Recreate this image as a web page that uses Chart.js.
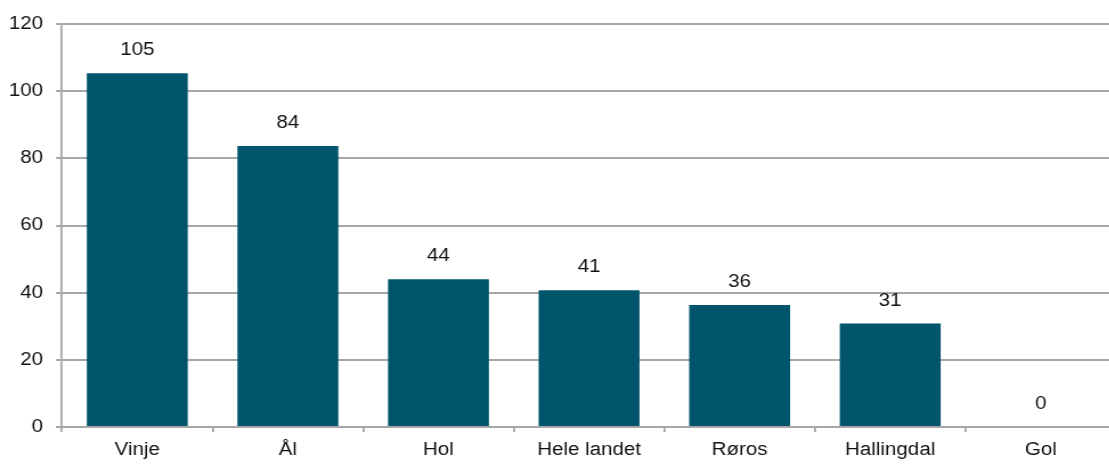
<!DOCTYPE html>
<html>
<head>
<meta charset="utf-8">
<script src="https://cdn.jsdelivr.net/npm/chart.js@4/dist/chart.umd.min.js"></script>
<style>
  html, body { margin: 0; padding: 0; overflow: hidden; background: #fff; }
  #wrap { width: 1109px; height: 464px; overflow: hidden; }
  /* the reference is stretched sideways, so the canvas is too */
  #bar { transform: scaleX(1.14); transform-origin: 0 0; }
</style>
</head>
<body>
<div id="wrap"><canvas id="bar" width="979" height="464"></canvas></div>
<script>
var categories = ["Vinje", "Ål", "Hol", "Hele landet", "Røros", "Hallingdal", "Gol"];
var values = [105.3, 83.7, 44.0, 40.7, 36.3, 30.8, 0];
var yTicks = [0, 20, 40, 60, 80, 100, 120];

var stretch = 1.14;
var barColor = "#00546b";
var gridColor = "#a6a6a6";
var textColor = "#111111";
var fontFamily = "'Liberation Sans', Arial, sans-serif";

// labels over the bars
var valueLabels = {
    id: "valueLabels",
    afterDatasetsDraw: function (chart) {
        var ctx = chart.ctx;
        var meta = chart.getDatasetMeta(0);
        ctx.save();
        ctx.font = "18px " + fontFamily;
        ctx.fillStyle = textColor;
        ctx.textAlign = "center";
        ctx.textBaseline = "middle";
        meta.data.forEach(function (el, i) {
            ctx.fillText(String(Math.round(values[i])), el.x, el.y - 23);
        });
        ctx.restore();
    }
};

var bCtx = document.getElementById("bar").getContext("2d");
var bar = new Chart(bCtx, {
    type: "bar",
    data: {
        labels: categories,
        datasets: [
            {
                label: "Verdi",
                data: values,
                backgroundColor: barColor,
                borderWidth: 0,
                barPercentage: 0.67,
                categoryPercentage: 1.0,
            },
        ],
    },
    plugins: [valueLabels],
    options: {
        responsive: false,
        devicePixelRatio: 1,
        animation: false,
        layout: {
            padding: { top: 24, right: 0, bottom: 0, left: 0 },
        },
        plugins: {
            legend: { display: false },
            tooltip: { enabled: false },
        },
        scales: {
            y: {
                min: 0,
                max: 120,
                afterFit: function (scale) { scale.width = 62 / stretch; },
                afterBuildTicks: function (scale) {
                    scale.ticks = yTicks.map(function (v) { return { value: v }; });
                },
                ticks: {
                    color: textColor,
                    padding: 11.4,
                    font: { family: fontFamily, size: 18 },
                },
                grid: {
                    color: gridColor,
                    lineWidth: 2,
                    tickLength: 6 / stretch,
                },
                border: { display: true, color: gridColor, width: 1.8 },
            },
            x: {
                afterFit: function (scale) { scale.height = 37; },
                ticks: {
                    color: textColor,
                    padding: 7,
                    maxRotation: 0,
                    font: { family: fontFamily, size: 18 },
                },
                grid: {
                    offset: true,
                    drawOnChartArea: false,
                    drawTicks: true,
                    tickLength: 5,
                    color: gridColor,
                    lineWidth: 1.8,
                },
                border: { display: true, color: gridColor, width: 2 },
            },
        },
    },
});
</script>
</body>
</html>
